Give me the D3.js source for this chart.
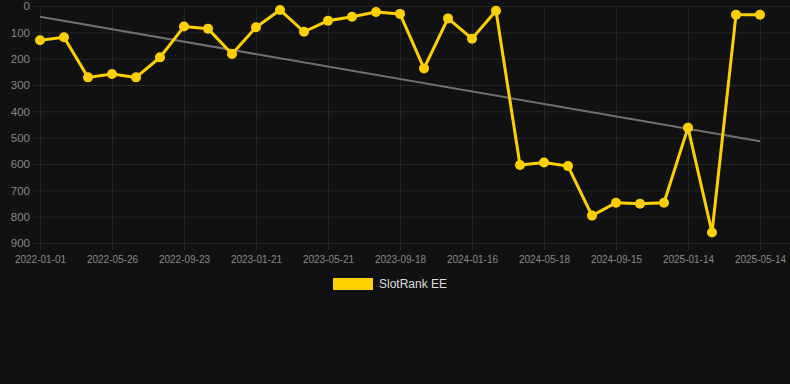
<!DOCTYPE html>
<html>
<head>
<meta charset="utf-8">
<script src="https://cdn.jsdelivr.net/npm/d3@7"></script>
<style>
html,body{margin:0;padding:0;background:#111111;}
svg{display:block;}
text{font-family:"Liberation Sans",Arial,sans-serif;}
</style>
</head>
<body>
<svg id="chart" width="790" height="384"></svg>
<script>
const dates = ["2022-01-01","2022-02-18","2022-04-07","2022-05-26","2022-07-05","2022-08-14","2022-09-23","2022-11-02","2022-12-12","2023-01-21","2023-03-01","2023-04-10","2023-05-21","2023-06-30","2023-08-09","2023-09-18","2023-10-28","2023-12-07","2024-01-16","2024-02-27","2024-04-07","2024-05-18","2024-06-27","2024-08-06","2024-09-15","2024-10-25","2024-12-04","2025-01-14","2025-02-23","2025-04-04","2025-05-14"];
const ranks = [130,119,271,258,271,195,78,86,182,81,15,98,56,41,23,30,237,47,124,18,604,594,608,796,747,751,747,462,860,33,33];
const yTicks = [0,100,200,300,400,500,600,700,800,900];
const seriesName = "SlotRank EE";

const svg = d3.select("#chart");
const W = 790, H = 384;
svg.append("rect").attr("width",W).attr("height",H).attr("fill","#111111");

const x = d3.scalePoint().domain(dates).range([40,760]);
const y = d3.scaleLinear().domain([0,900]).range([6,243]);

const tickDates = dates.filter((d,i)=>i%3===0);

// grid
const g = svg.append("g");
g.selectAll("line.h").data(yTicks).enter().append("line")
  .attr("x1",33).attr("x2",790)
  .attr("y1",d=>y(d)+0.5).attr("y2",d=>y(d)+0.5)
  .attr("stroke","#252525").attr("stroke-width",1);
g.selectAll("line.v").data(tickDates).enter().append("line")
  .attr("x1",d=>Math.round(x(d))+0.5).attr("x2",d=>Math.round(x(d))+0.5)
  .attr("y1",6).attr("y2",250)
  .attr("stroke","#252525").attr("stroke-width",1);

// y axis labels
const yAxis = d3.axisLeft(y).tickValues(yTicks).tickSize(0).tickPadding(0);
const ya = svg.append("g").attr("transform","translate(30,0)").call(yAxis);
ya.select(".domain").remove();
ya.selectAll("text").attr("fill","#888888").attr("font-size","11.5px")
  .style("font-family","'Liberation Sans',Arial,sans-serif");

// x axis labels
const xAxis = d3.axisBottom(x).tickValues(tickDates).tickSize(0).tickPadding(0);
const xa = svg.append("g").attr("transform","translate(0,255.5)").call(xAxis);
xa.select(".domain").remove();
xa.selectAll("text").attr("fill","#888888").attr("font-size","10px").attr("dy","0.71em")
  .style("font-family","'Liberation Sans',Arial,sans-serif");

// trend line (least squares on index)
const n = ranks.length;
const idx = d3.range(n);
const mx = d3.mean(idx), my = d3.mean(ranks);
const slope = d3.sum(idx,i=>(i-mx)*(ranks[i]-my))/d3.sum(idx,i=>(i-mx)*(i-mx));
const icpt = my - slope*mx;
svg.append("line")
  .attr("x1",x(dates[0])).attr("y1",y(icpt))
  .attr("x2",x(dates[n-1])).attr("y2",y(icpt+slope*(n-1)))
  .attr("stroke","#707070").attr("stroke-width",2);

// series line
const line = d3.line().x((d,i)=>x(dates[i])).y(d=>y(d));
svg.append("path").datum(ranks).attr("d",line)
  .attr("fill","none").attr("stroke","#ffd000").attr("stroke-width",3)
  .attr("stroke-linejoin","miter");

svg.selectAll("circle.pt").data(ranks).enter().append("circle")
  .attr("cx",(d,i)=>x(dates[i])).attr("cy",d=>y(d)).attr("r",5)
  .attr("fill","#ffd000");

// legend
const lg = svg.append("g");
lg.append("rect").attr("x",333).attr("y",278).attr("width",40).attr("height",12).attr("fill","#ffd000");
lg.append("text").attr("x",379).attr("y",284).attr("dy","0.35em")
  .attr("fill","#dddddd").attr("font-size","12px").text(seriesName);
</script>
</body>
</html>
